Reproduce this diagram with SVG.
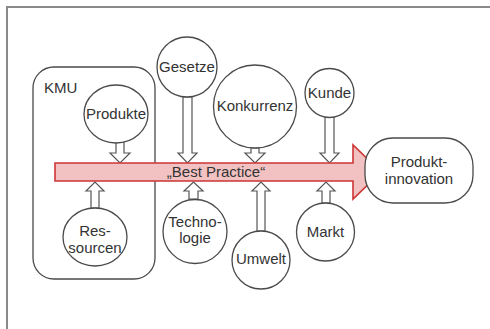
<svg xmlns="http://www.w3.org/2000/svg" width="490" height="329" viewBox="0 0 490 329">
<style>
  .frame { fill: none; stroke: #8a8a8a; stroke-width: 2; }
  .node { fill: #ffffff; stroke: #4a4a4a; stroke-width: 1.3; }
  .box { fill: none; stroke: #4a4a4a; stroke-width: 1.3; }
  .hollow { fill: #ffffff; stroke: #555555; stroke-width: 1.2; stroke-linejoin: miter; }
  .big { fill: #f2c2c2; stroke: #cc3636; stroke-width: 1.6; stroke-linejoin: miter; }
  text { font-family: "Liberation Sans", Arial, sans-serif; font-size: 15px; fill: #333333; text-anchor: middle; }
  .left { text-anchor: start; }
</style>
<rect x="0" y="0" width="490" height="329" fill="#ffffff"/>
<path class="frame" d="M7,330 V7 H491"/>

<g id="kmu">
  <rect class="box" x="33" y="67" width="122" height="212" rx="21" ry="21"/>
  <text class="left" x="44" y="93">KMU</text>
</g>

<g id="connectors">
  <!-- Produkte down -->
  <path class="hollow" d="M116,142 V153 H110 L120,163 L130,153 H124 V142 Z"/>
  <!-- Gesetze down -->
  <path class="hollow" d="M183,97 V153 H178 L187.5,163 L197,153 H192 V97 Z"/>
  <!-- Konkurrenz down -->
  <path class="hollow" d="M251,148 V153 H245 L255,163 L265,153 H259 V148 Z"/>
  <!-- Kunde down -->
  <path class="hollow" d="M325,117 V153 H320 L329.5,163 L339,153 H334 V117 Z"/>
  <!-- Ressourcen up -->
  <path class="hollow" d="M91,208 V191 H86 L95,182 L104,191 H99 V208 Z"/>
  <!-- Technologie up -->
  <path class="hollow" d="M189,199 V191 H184 L193.5,182 L203,191 H198 V199 Z"/>
  <!-- Umwelt up -->
  <path class="hollow" d="M257,231 V191 H252 L261,182 L270,191 H265 V231 Z"/>
  <!-- Markt up -->
  <path class="hollow" d="M322,203 V191 H317 L326,182 L335,191 H330 V203 Z"/>
</g>

<g id="best-practice">
  <path class="big" d="M55,163 H353 V145 L381,172 L353,199 V181 H55 Z"/>
  <text x="216" y="177">„Best Practice“</text>
</g>

<g id="produkte">
  <ellipse class="node" cx="116" cy="114" rx="32" ry="29"/>
  <text x="116" y="119">Produkte</text>
</g>

<g id="ressourcen">
  <ellipse class="node" cx="95" cy="237" rx="32" ry="29"/>
  <text x="95" y="236">Res-</text>
  <text x="95" y="253">sourcen</text>
</g>

<g id="gesetze">
  <circle class="node" cx="187" cy="67" r="30"/>
  <text x="187" y="72">Gesetze</text>
</g>

<g id="konkurrenz">
  <circle class="node" cx="255" cy="106.5" r="41.5"/>
  <text x="255" y="111">Konkurrenz</text>
</g>

<g id="kunde">
  <circle class="node" cx="329.5" cy="93" r="24.5"/>
  <text x="329.5" y="98">Kunde</text>
</g>

<g id="technologie">
  <circle class="node" cx="195" cy="231.5" r="32"/>
  <text x="195" y="227">Techno-</text>
  <text x="195" y="243">logie</text>
</g>

<g id="umwelt">
  <circle class="node" cx="261" cy="260" r="29"/>
  <text x="261" y="264">Umwelt</text>
</g>

<g id="markt">
  <circle class="node" cx="325.5" cy="232" r="29"/>
  <text x="325.5" y="237">Markt</text>
</g>

<g id="produktinnovation">
  <rect class="node" x="365" y="138" width="108" height="65" rx="28" ry="28"/>
  <text x="419" y="167">Produkt-</text>
  <text x="419" y="184">innovation</text>
</g>
</svg>
